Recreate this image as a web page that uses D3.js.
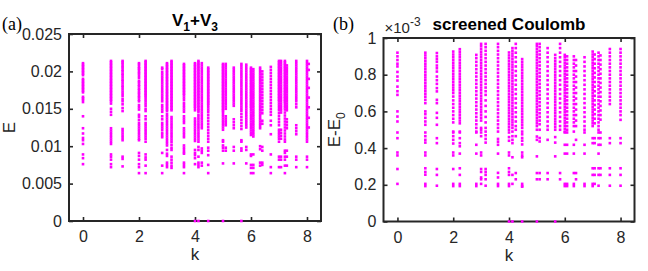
<!DOCTYPE html>
<html>
<head>
<meta charset="utf-8">
<title>Spectra vs k</title>
<script src="https://d3js.org/d3.v7.min.js"></script>
<style>
  body { margin: 0; background: #fff; }
  svg { display: block; }
  text { font-family: "Liberation Sans", Arial, Helvetica, sans-serif; fill: #262626; }
  text.panel { font-family: "Liberation Serif", "Times New Roman", serif; fill: #000; }
</style>
</head>
<body>
<svg id="chart" width="648" height="271"></svg>
<script>

// ---- data: panel (a) V1+V3, energies in units of 1e-3 ----
let kV13 = [0, 1, 1.414, 2, 2.236, 2.828, 3, 3.162, 3.606, 4, 4.123, 4.243, 4.472,
  5, 5.099, 5.385, 5.657, 5.831, 6, 6.083, 6.325, 6.403, 6.708, 7, 7.071, 7.211, 7.28, 7.616, 8, 8.062];

let eV13 = [
  [21.1,20.9,20.7,20.5,20.3,20.1,19.9,19.7,19.5,19.0,18.8,18.6,18.4,18.2,18.0,17.8,17.6,17.4,17.2,16.6,16.4,16.2,15.9,14.0,12.4,11.7,11.1,10.8,10.3,8.9,8.4,7.6],
  [21.4,21.2,21.0,20.8,20.6,20.4,20.2,20.0,19.8,19.6,19.4,19.2,19.0,18.8,18.6,18.4,18.2,18.0,17.8,17.6,17.4,17.2,17.0,16.8,16.6,16.4,16.2,16.0,15.7,15.0,14.6,14.2,12.4,12.1,11.8,11.5,11.2,10.9,10.6,10.3,8.9,8.6,8.2,7.6,7.2],
  [21.4,21.2,21.0,20.7,20.5,20.2,20.0,19.7,19.5,19.2,18.9,18.7,18.4,18.1,17.9,17.6,17.3,17.0,16.7,16.3,16.0,15.6,15.1,14.7,12.3,12.0,11.7,11.4,11.1,10.8,8.6,8.3,7.3],
  [21.1,20.9,20.6,20.4,20.2,19.9,19.7,19.4,19.1,18.7,18.5,18.2,18.0,17.7,17.5,17.2,17.0,16.7,16.5,16.2,16.0,15.5,15.2,14.9,14.2,13.9,13.5,13.1,12.8,12.5,12.2,11.9,11.6,11.3,11.0,10.8,9.1,8.7,8.2,7.6,7.2,6.4],
  [21.4,21.2,21.0,20.8,20.6,20.4,20.2,20.0,19.8,19.6,19.4,19.2,19.0,18.8,18.6,18.4,18.2,18.0,17.8,17.6,17.4,17.2,17.0,16.8,16.6,16.3,16.0,15.7,15.4,15.0,14.7,14.0,13.6,13.1,12.8,12.5,12.2,11.9,11.6,11.3,11.0,10.6,8.9,8.5,8.2,7.4,6.4],
  [20.5,20.3,19.9,19.6,19.3,19.0,18.7,18.4,18.1,17.8,17.5,17.2,16.9,16.6,16.3,16.0,15.5,15.2,14.9,14.6,14.0,13.6,13.1,12.8,12.5,12.2,11.8,11.5,11.2,9.1,7.4,6.4],
  [21.1,20.9,20.7,20.5,20.3,20.1,19.9,19.7,19.5,19.3,19.1,18.9,18.7,18.5,18.3,18.1,17.9,17.7,17.5,17.3,17.1,16.9,16.7,16.5,16.3,16.1,15.9,15.7,15.5,15.3,15.1,14.9,14.7,14.3,14.0,13.7,13.4,13.1,12.8,12.5,12.2,11.9,11.6,11.3,11.0,10.7,10.4,10.1,9.5,9.0,8.7,7.8,7.5,7.2],
  [21.4,21.2,21.0,20.8,20.6,20.4,20.2,20.0,19.8,19.6,19.4,19.2,19.0,18.8,18.6,18.4,18.2,18.0,17.8,17.6,17.4,17.2,17.0,16.8,16.6,16.4,16.2,16.0,15.8,15.6,15.4,15.2,15.0,14.8,13.9,13.6,13.3,13.0,12.7,12.4,12.1,11.8,11.5,11.2,10.9,10.6,10.2,9.8,9.5,8.6,8.2,7.8,7.4,7.1],
  [21.0,20.8,20.6,20.4,20.2,20.0,19.8,19.6,19.4,19.2,19.0,18.8,18.6,18.4,18.2,18.0,17.8,17.6,17.4,17.2,17.0,16.8,16.5,16.2,15.8,15.5,15.2,14.9,14.6,14.0,13.7,13.4,13.1,12.4,12.1,11.8,11.5,11.2,10.1,9.8,9.5,9.2,9.0,7.8,7.5,7.2,6.4],
  [21.1,20.9,20.7,20.5,20.3,20.1,19.9,19.7,19.5,19.3,19.1,18.9,18.7,18.5,18.3,18.1,17.9,17.7,17.5,17.3,17.1,16.9,16.7,16.5,16.3,16.1,15.9,15.7,15.5,15.3,15.1,14.8,13.7,13.4,13.1,12.8,12.5,12.2,11.9,11.6,11.3,11.0,10.7,9.5,9.1,8.8,8.4,7.6,0],
  [21.4,21.2,21.0,20.8,20.6,20.4,20.2,20.0,19.8,19.6,19.4,19.2,19.0,18.8,18.6,18.4,18.2,18.0,17.8,17.6,17.4,17.2,17.0,16.8,16.6,16.4,16.2,16.0,15.8,15.6,15.4,15.2,15.0,14.8,14.6,14.2,13.9,13.6,13.3,13.0,12.7,12.4,12.1,11.8,11.5,11.2,10.9,10.6,9.9,9.5,8.6,7.8,7.5,7.2,0],
  [21.1,20.8,20.5,20.2,19.9,19.6,19.3,19.0,18.7,18.4,18.1,17.8,17.5,17.2,16.9,16.6,16.3,16.0,15.7,15.4,15.1,14.8,14.5,14.2,13.9,13.6,13.3,13.0,12.7,12.4,9.7,9.4,9.1,7.8,7.4],
  [20.5,20.3,20.1,19.9,19.7,19.5,19.3,19.1,18.9,18.7,18.5,18.3,18.1,17.9,17.7,17.5,17.3,17.1,16.9,16.7,16.5,16.3,16.1,15.9,15.7,15.5,15.2,14.9,14.6,14.2,13.8,13.4,13.0,12.6,12.2,11.8,11.4,11.0,10.6,9.8,9.4,8.8,7.5,6.4,0],
  [21.0,20.8,20.6,20.4,20.2,20.0,19.8,19.6,19.4,19.2,19.0,18.8,18.6,18.4,18.2,18.0,17.8,17.6,17.4,17.2,17.0,16.8,16.6,16.4,16.2,16.0,15.8,15.6,15.4,15.2,15.0,14.8,14.6,14.3,14.0,13.7,13.4,13.1,12.8,12.5,12.2,10.8,10.6,10.1,9.8,9.4,7.7,0],
  [21.0,20.7,20.4,20.1,19.8,19.5,19.2,18.9,18.6,18.3,18.0,17.7,17.4,17.1,16.8,16.5,16.2,15.9,15.6,15.3,15.0,14.0,13.7,13.4,13.1,12.8,9.8,9.4],
  [20.5,20.2,19.9,19.6,19.3,19.0,18.7,18.4,18.1,17.8,17.5,17.2,16.9,16.6,16.3,16.0,15.7,15.4,13.6,13.2,12.8,12.4,9.9,9.4,7.7],
  [21.0,20.7,20.4,20.1,19.8,19.5,19.2,18.9,18.6,18.3,18.0,17.7,17.4,17.1,16.8,16.5,16.2,15.9,15.6,15.3,15.0,14.7,14.3,13.9,13.5,13.1,12.7,12.3,10.8,10.6,9.7,9.4,0],
  [20.9,20.6,20.3,20.0,19.7,19.4,19.1,18.8,18.5,18.2,17.9,17.6,17.3,17.0,16.7,16.4,16.1,15.8,15.5,15.2,14.9,14.6,14.3,14.0,13.7,13.4,13.1,12.8,12.5,9.9,9.5,7.7],
  [20.5,20.3,20.1,19.9,19.7,19.5,19.3,19.1,18.9,18.7,18.5,18.3,18.1,17.9,17.7,17.5,17.3,17.1,16.9,16.7,16.5,16.3,16.1,15.9,15.7,15.5,15.3,15.1,14.8,14.5,14.2,13.9,13.6,13.3,13.0,12.7,12.4,12.1,11.8,11.5,8.9,8.7,7.5,7.1,6.4],
  [20.3,20.0,19.7,19.4,19.1,18.8,18.5,18.2,17.9,17.6,17.3,17.0,16.7,16.4,16.1,15.8,15.5,15.2,14.9,14.6,14.3,14.0,13.7,13.4,13.1,12.8,12.5,12.2,11.9,11.6,11.3,8.9,7.5,7.1,6.4],
  [20.5,20.2,19.9,19.6,19.3,19.0,18.7,18.4,18.1,17.8,17.5,17.2,16.9,16.6,16.3,16.0,15.7,15.4,15.1,14.8,14.5,14.2,13.9,13.6,13.3,13.0,12.7,12.4,10.0,9.6,7.8,7.4],
  [20.0,19.6,19.2,18.8,18.4,18.0,17.6,17.2,16.8,16.4,16.0,15.6,15.2,14.8,14.4,13.4,13.0,9.9,9.4,7.8,7.5],
  [20.6,20.2,19.8,19.4,19.0,18.6,18.2,17.8,17.4,17.0,16.6,16.2,15.8,15.4,15.0,14.6,14.2,13.4,12.8,11.6,8.9,7.2,6.4],
  [21.4,21.2,21.0,20.8,20.6,20.4,20.2,20.0,19.8,19.6,19.4,19.2,19.0,18.8,18.6,18.4,18.2,18.0,17.8,17.6,17.4,17.2,17.0,16.8,16.6,16.4,16.2,16.0,15.7,15.4,15.1,14.8,14.4,14.0,13.6,13.2,12.8,12.2,11.9,11.6,11.3,11.0,10.6,8.6,8.2,7.2],
  [21.4,21.1,20.8,20.5,20.2,19.9,19.6,19.3,19.0,18.7,18.4,18.1,17.8,17.5,17.2,16.9,16.6,16.3,16.0,15.7,15.4,15.1,14.8,14.5,12.2,11.8,11.4,11.0,8.6,8.2,7.2],
  [21.4,21.2,21.0,20.8,20.6,20.4,20.2,20.0,19.8,19.6,19.4,19.2,19.0,18.8,18.6,18.4,18.2,18.0,17.8,17.6,17.4,17.2,17.0,16.8,16.6,16.4,16.2,16.0,15.8,15.5,15.2,14.9,14.5,14.1,13.7,13.3,12.9,12.5,12.1,11.7,11.3,10.9,10.6,9.4,9.1,8.6,8.2,7.4,6.4],
  [20.8,20.5,20.2,19.9,19.6,19.3,19.0,18.7,18.4,18.1,17.8,17.5,17.2,16.9,16.6,16.3,16.0,15.7,15.4,15.1,14.8,13.6,13.2,12.8,12.4,9.4,8.6,7.4],
  [21.4,21.1,20.8,20.5,20.2,19.9,19.6,19.3,19.0,18.7,18.4,18.1,17.8,17.5,17.2,16.9,16.6,16.3,16.0,15.6,15.2,12.8,12.4,12.0,11.6,8.6,8.2,7.2],
  [21.4,21.1,20.8,20.5,20.2,19.9,19.6,19.3,19.0,18.7,18.4,18.1,17.8,17.5,17.2,16.9,16.6,16.3,16.0,15.7,15.4,15.1,14.8,14.5,14.2,13.9,13.6,13.3,13.0,12.7,12.4,12.1,11.8,11.5,11.2,10.9,10.6,8.6,8.2,7.2],
  [21.0,20.2,19.0,17.8,16.5,15.2,13.8,12.5]
];

// ---- data: panel (b) screened Coulomb, E-E0 in units of 1e-3 ----
let kSC = [0, 1, 1.414, 2, 2.236, 2.828, 3, 3.162, 3.606, 4, 4.123, 4.243, 4.472,
  5, 5.099, 5.385, 5.657, 5.831, 6, 6.083, 6.325, 6.403, 6.708, 7, 7.071, 7.211, 7.28, 7.616, 8];

let eSC = [
  [0.92,0.90,0.88,0.86,0.845,0.815,0.79,0.768,0.735,0.71,0.69,0.60,0.572,0.545,0.485,0.454,0.376,0.36,0.286,0.205],
  [0.92,0.905,0.89,0.875,0.86,0.845,0.83,0.815,0.80,0.785,0.77,0.755,0.74,0.725,0.71,0.695,0.68,0.663,0.645,0.60,0.585,0.565,0.545,0.527,0.485,0.465,0.445,0.43,0.376,0.36,0.29,0.27,0.255,0.205,0.193],
  [0.918,0.90,0.885,0.87,0.85,0.835,0.817,0.79,0.77,0.75,0.727,0.709,0.663,0.645,0.592,0.565,0.527,0.454,0.427,0.286,0.254,0.195],
  [0.926,0.91,0.895,0.88,0.865,0.85,0.835,0.82,0.805,0.79,0.775,0.76,0.745,0.73,0.715,0.70,0.681,0.66,0.64,0.62,0.60,0.58,0.56,0.54,0.49,0.485,0.465,0.445,0.425,0.376,0.36,0.286,0.205,0.193],
  [0.939,0.925,0.91,0.895,0.88,0.865,0.85,0.835,0.82,0.805,0.79,0.775,0.76,0.745,0.73,0.715,0.70,0.685,0.67,0.655,0.64,0.625,0.61,0.595,0.58,0.565,0.55,0.535,0.49,0.485,0.454,0.427,0.41,0.37,0.29,0.254,0.205,0.193],
  [0.908,0.89,0.87,0.85,0.83,0.81,0.79,0.77,0.75,0.73,0.71,0.69,0.67,0.65,0.63,0.61,0.59,0.57,0.55,0.53,0.51,0.49,0.485,0.418,0.37,0.205,0.193],
  [0.968,0.955,0.94,0.925,0.91,0.895,0.88,0.865,0.85,0.835,0.82,0.805,0.79,0.775,0.76,0.745,0.73,0.715,0.70,0.685,0.67,0.655,0.64,0.625,0.61,0.595,0.58,0.565,0.55,0.51,0.50,0.485,0.465,0.376,0.36,0.286,0.27,0.24,0.23,0.205],
  [0.968,0.95,0.93,0.91,0.89,0.87,0.85,0.83,0.81,0.79,0.77,0.75,0.73,0.71,0.69,0.66,0.63,0.60,0.57,0.54,0.51,0.49,0.47,0.45,0.43,0.286,0.27,0.254,0.23,0.195],
  [0.968,0.95,0.93,0.91,0.89,0.87,0.85,0.83,0.81,0.79,0.77,0.75,0.73,0.71,0.69,0.67,0.65,0.63,0.61,0.59,0.57,0.55,0.53,0.51,0.49,0.45,0.435,0.418,0.37,0.265,0.24,0.205,0.193],
  [0.921,0.905,0.89,0.875,0.86,0.845,0.83,0.815,0.80,0.785,0.77,0.755,0.74,0.725,0.71,0.695,0.68,0.665,0.65,0.635,0.62,0.605,0.59,0.575,0.56,0.545,0.53,0.515,0.50,0.485,0.46,0.44,0.376,0.36,0.29,0.27,0.254,0.205,0.193,0],
  [0.945,0.93,0.915,0.90,0.885,0.87,0.855,0.84,0.825,0.81,0.795,0.78,0.765,0.75,0.735,0.72,0.705,0.69,0.675,0.66,0.645,0.63,0.615,0.60,0.585,0.57,0.555,0.54,0.525,0.51,0.49,0.465,0.445,0.427,0.35,0.254,0.205,0],
  [0.968,0.945,0.92,0.895,0.87,0.845,0.82,0.795,0.77,0.745,0.72,0.695,0.67,0.645,0.62,0.595,0.57,0.545,0.52,0.50,0.465,0.264,0.23],
  [0.885,0.87,0.855,0.84,0.825,0.81,0.795,0.78,0.765,0.75,0.735,0.72,0.705,0.69,0.675,0.66,0.645,0.63,0.615,0.60,0.585,0.57,0.555,0.54,0.525,0.51,0.49,0.475,0.455,0.44,0.42,0.376,0.36,0.35,0.205,0.193,0.19,0],
  [0.968,0.955,0.94,0.925,0.91,0.895,0.88,0.865,0.85,0.835,0.82,0.805,0.79,0.775,0.76,0.745,0.73,0.715,0.70,0.685,0.67,0.655,0.64,0.625,0.61,0.595,0.58,0.565,0.55,0.535,0.52,0.50,0.463,0.445,0.355,0.264,0.23,0],
  [0.968,0.95,0.93,0.91,0.89,0.87,0.85,0.83,0.81,0.79,0.77,0.75,0.73,0.71,0.69,0.67,0.65,0.63,0.61,0.59,0.57,0.55,0.53,0.50,0.455,0.436,0.264,0.23],
  [0.945,0.92,0.895,0.87,0.845,0.82,0.795,0.77,0.745,0.72,0.695,0.67,0.645,0.62,0.595,0.57,0.545,0.52,0.50,0.445,0.264,0.23],
  [0.908,0.89,0.875,0.86,0.845,0.83,0.815,0.80,0.785,0.77,0.755,0.74,0.725,0.71,0.695,0.68,0.665,0.65,0.635,0.62,0.605,0.59,0.575,0.56,0.545,0.53,0.515,0.50,0.46,0.43,0.355,0],
  [0.968,0.945,0.92,0.895,0.87,0.845,0.82,0.795,0.77,0.745,0.72,0.695,0.67,0.645,0.62,0.595,0.57,0.545,0.52,0.50,0.264,0.23],
  [0.908,0.895,0.88,0.865,0.85,0.835,0.82,0.805,0.79,0.775,0.76,0.745,0.73,0.715,0.70,0.685,0.67,0.655,0.64,0.625,0.61,0.595,0.58,0.565,0.55,0.535,0.52,0.505,0.49,0.485,0.418,0.37,0.205,0.193],
  [0.90,0.88,0.86,0.84,0.82,0.80,0.78,0.76,0.74,0.72,0.70,0.68,0.66,0.64,0.62,0.60,0.58,0.56,0.54,0.52,0.50,0.485,0.418,0.37,0.205,0.193],
  [0.90,0.88,0.86,0.84,0.82,0.80,0.78,0.76,0.74,0.72,0.70,0.68,0.66,0.64,0.62,0.60,0.58,0.56,0.54,0.52,0.49,0.418,0.37,0.264,0.205,0.193],
  [0.88,0.85,0.82,0.79,0.76,0.73,0.70,0.67,0.64,0.61,0.58,0.55,0.52,0.445,0.264,0.23],
  [0.895,0.87,0.845,0.82,0.795,0.77,0.745,0.72,0.695,0.67,0.645,0.62,0.595,0.57,0.545,0.52,0.50,0.485,0.418,0.37,0.205,0.193],
  [0.926,0.91,0.895,0.88,0.865,0.85,0.835,0.82,0.805,0.79,0.775,0.76,0.745,0.73,0.715,0.70,0.685,0.67,0.655,0.64,0.625,0.61,0.595,0.58,0.565,0.55,0.535,0.52,0.454,0.427,0.29,0.254,0.205,0.193],
  [0.91,0.885,0.86,0.835,0.81,0.785,0.76,0.735,0.71,0.685,0.66,0.635,0.61,0.585,0.56,0.535,0.454,0.427,0.29,0.254,0.205],
  [0.92,0.90,0.88,0.86,0.84,0.82,0.80,0.78,0.76,0.74,0.72,0.70,0.68,0.66,0.64,0.62,0.60,0.58,0.56,0.54,0.52,0.50,0.485,0.454,0.418,0.37,0.29,0.254,0.195],
  [0.905,0.88,0.855,0.83,0.805,0.78,0.755,0.73,0.705,0.68,0.655,0.63,0.605,0.58,0.555,0.485,0.454,0.418,0.29,0.254],
  [0.94,0.92,0.90,0.88,0.86,0.84,0.82,0.80,0.78,0.76,0.74,0.72,0.70,0.68,0.66,0.64,0.454,0.427,0.29,0.254,0.195],
  [0.94,0.92,0.90,0.88,0.86,0.84,0.82,0.80,0.78,0.76,0.74,0.72,0.70,0.68,0.66,0.64,0.62,0.60,0.58,0.554,0.454,0.427,0.29,0.254,0.195]
];

// ticks
let xTicks = [0, 2, 4, 6, 8];
let yTicksA = [0, 5, 10, 15, 20, 25];
let yLabelsA = ['0', '0.005', '0.01', '0.015', '0.02', '0.025'];
let yTicksB = [0, 0.2, 0.4, 0.6, 0.8, 1];
let yLabelsB = ['0', '0.2', '0.4', '0.6', '0.8', '1'];

let svg = d3.select('#chart');
let axisColor = '#262626';
let dotColor = '#ff00ff';

function drawPanel(p) {
  let g = svg.append('g').attr('transform', translate(p.left, p.top));
  let w = p.right - p.left;
  let h = p.bottom - p.top;

  let x = d3.scaleLinear().domain([-0.5, 8.5]).range([0, w]);
  let y = d3.scaleLinear().domain(p.yDomain).range([h, 0]);

  // axes (ticks point inward, like matlab)
  let fmt = d => p.yLabels[p.yTicks.indexOf(d)];
  let left = g.append('g').call(d3.axisLeft(y).tickValues(p.yTicks).tickFormat(fmt).tickSize(-4).tickSizeOuter(0).tickPadding(7));
  let bottom = g.append('g').attr('transform', translate(0, h))
    .call(d3.axisBottom(x).tickValues(xTicks).tickFormat(d3.format('d')).tickSize(-4).tickSizeOuter(0).tickPadding(10));
  let top = g.append('g').call(d3.axisTop(x).tickValues(xTicks).tickFormat('').tickSize(-4).tickSizeOuter(0));
  let right = g.append('g').attr('transform', translate(w, 0))
    .call(d3.axisRight(y).tickValues(p.yTicks).tickFormat('').tickSize(-4).tickSizeOuter(0));

  [left, bottom, top, right].forEach(a => {
    a.select('.domain').remove();
    a.selectAll('line').attr('stroke', axisColor).attr('stroke-width', 1.6);
    a.selectAll('text').attr('font-size', 16).attr('fill', axisColor);
  });

  g.append('rect')
    .attr('width', w).attr('height', h)
    .attr('fill', 'none')
    .attr('stroke', axisColor)
    .attr('stroke-width', 2);

  // flatten columns into points, drawn above the box like matlab
  let pts = [];
  p.k.forEach((k, i) => p.e[i].forEach(e => pts.push({k: k, e: e})));

  g.append('g').selectAll('rect')
    .data(pts)
    .join('rect')
    .attr('x', d => x(d.k) - 1.3)
    .attr('y', d => y(d.e) - 1.3)
    .attr('width', 2.6)
    .attr('height', 2.6)
    .attr('fill', dotColor);

  // axis labels
  g.append('text')
    .attr('x', w / 2).attr('y', h + 39)
    .attr('text-anchor', 'middle')
    .attr('font-size', 17)
    .text('k');

  let yl = g.append('text')
    .attr('transform', translate(p.yLabelX, h / 2) + ' rotate(-90)')
    .attr('text-anchor', 'middle')
    .attr('font-size', 17);
  yl.append('tspan').text(p.yLabel);
  if (p.ySub) {
    yl.append('tspan').attr('dy', 5).attr('font-size', 12).text(p.ySub);
  }

  return {g: g, w: w, h: h};
}

// panel (a)
let a = drawPanel({
  left: 69, right: 321, top: 34, bottom: 221,
  k: kV13, e: eV13, yDomain: [0, 25],
  yTicks: yTicksA, yLabels: yLabelsA,
  yLabel: 'E', yLabelX: -54
});

let tA = a.g.append('text')
  .attr('x', a.w / 2).attr('y', -8)
  .attr('text-anchor', 'middle')
  .attr('font-size', 17).attr('font-weight', 'bold')
  .style('fill', '#000');
tA.append('tspan').text('V');
tA.append('tspan').attr('dy', 5).attr('font-size', 12).text('1');
tA.append('tspan').attr('dy', -5).text('+V');
tA.append('tspan').attr('dy', 5).attr('font-size', 12).text('3');

svg.append('text')
  .attr('class', 'panel')
  .attr('x', 2).attr('y', 30)
  .attr('font-size', 18)
  .text('(a)');

// panel (b)
let b = drawPanel({
  left: 383.5, right: 634.5, top: 38, bottom: 221.5,
  k: kSC, e: eSC, yDomain: [0, 1],
  yTicks: yTicksB, yLabels: yLabelsB,
  yLabel: 'E-E', ySub: '0', yLabelX: -44
});

let mult = b.g.append('text')
  .attr('x', 1).attr('y', -5)
  .attr('font-size', 15);
mult.append('tspan').text('\u00d710');
mult.append('tspan').attr('dy', -7).attr('font-size', 12).text('-3');

b.g.append('text')
  .attr('x', b.w / 2).attr('y', -8)
  .attr('text-anchor', 'middle')
  .attr('font-size', 17).attr('font-weight', 'bold')
  .style('fill', '#000')
  .text('screened Coulomb');

svg.append('text')
  .attr('class', 'panel')
  .attr('x', 333).attr('y', 30)
  .attr('font-size', 18)
  .text('(b)');

// helper method to make translating easier
function translate(x, y) {
  return 'translate(' + x + ',' + y + ')';
}

</script>
</body>
</html>
